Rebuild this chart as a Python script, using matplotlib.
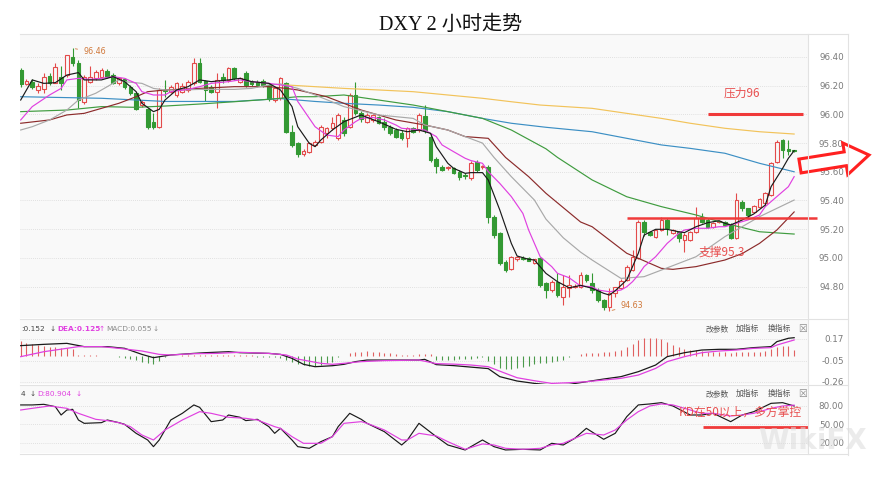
import matplotlib
matplotlib.use('Agg')
import matplotlib.pyplot as plt
import numpy as np
from matplotlib.patches import Polygon
from matplotlib.lines import Line2D

# ---------------- data ----------------
opens = [96.31, 96.21, 96.228, 96.17, 96.18, 96.268, 96.221, 96.263, 96.274, 96.402,
         96.356, 96.089, 96.228, 96.251, 96.263, 96.305, 96.274, 96.216, 96.244, 96.193,
         96.151, 96.065, 96.035, 95.949, 95.914, 96.172, 96.158, 96.135, 96.158, 96.17,
         96.216, 96.36, 96.235, 96.193, 96.158, 96.263, 96.24, 96.321, 96.228, 96.291,
         96.228, 96.228, 96.235, 96.205, 96.10, 96.112, 96.216, 95.879, 95.798, 95.724,
         95.74, 95.787, 95.81, 95.868, 95.903, 95.833, 95.961, 95.914, 96.135, 96.007,
         95.949, 95.961, 95.979, 95.949, 95.914, 95.891, 95.868, 95.833, 95.903, 95.891,
         95.988, 95.845, 95.69, 95.636, 95.625, 95.624, 95.601, 95.575, 95.554, 95.67,
         95.63, 95.636, 95.287, 95.171, 94.973, 94.92, 94.99, 94.997, 95.0, 94.962,
         94.997, 94.823, 94.776, 94.834, 94.73, 94.788, 94.80, 94.799, 94.881, 94.823,
         94.776, 94.706, 94.66, 94.753, 94.788, 94.846, 94.915, 94.997, 95.252, 95.182,
         95.148, 95.194, 95.264, 95.171, 95.182, 95.125, 95.125, 95.182, 95.282, 95.264,
         95.217, 95.25, 95.252, 95.229, 95.136, 95.392, 95.345, 95.322, 95.357, 95.38,
         95.438, 95.67, 95.821, 95.76, 95.75]
highs = [96.32, 96.245, 96.245, 96.216, 96.29, 96.286, 96.356, 96.337, 96.414, 96.46,
         96.379, 96.274, 96.337, 96.309, 96.321, 96.314, 96.286, 96.263, 96.251, 96.205,
         96.158, 96.10, 96.042, 96.007, 96.181, 96.24, 96.205, 96.228, 96.216, 96.24,
         96.39, 96.39, 96.24, 96.205, 96.286, 96.286, 96.328, 96.328, 96.263, 96.305,
         96.24, 96.24, 96.245, 96.216, 96.188, 96.263, 96.228, 95.926, 95.81, 95.757,
         95.81, 95.82, 95.926, 95.914, 95.979, 96.007, 95.979, 96.147, 96.228, 96.02,
         96.007, 96.0, 95.99, 95.972, 95.926, 95.903, 95.891, 95.914, 95.91, 96.007,
         96.065, 95.87, 95.70, 95.645, 95.64, 95.635, 95.612, 95.59, 95.675, 95.685,
         95.65, 95.647, 95.30, 95.18, 94.985, 95.015, 95.012, 95.01, 95.008, 94.995,
         95.008, 94.83, 94.845, 94.893, 94.88, 94.88, 94.815, 94.904, 94.89, 94.893,
         94.788, 94.715, 94.788, 94.80, 94.85, 94.95, 95.055, 95.262, 95.264, 95.19,
         95.20, 95.287, 95.275, 95.20, 95.19, 95.17, 95.19, 95.357, 95.31, 95.275,
         95.25, 95.26, 95.26, 95.24, 95.45, 95.40, 95.35, 95.37, 95.415, 95.46,
         95.67, 95.82, 95.83, 95.821, 95.755]
lows = [96.19, 96.205, 96.18, 96.15, 96.15, 96.205, 96.216, 96.17, 96.263, 96.337,
        96.042, 96.072, 96.216, 96.24, 96.251, 96.251, 96.212, 96.205, 96.174, 96.135,
        96.03, 96.054, 95.896, 95.896, 95.903, 96.123, 96.147, 96.123, 96.147, 96.158,
        96.205, 96.216, 96.095, 96.147, 96.042, 96.216, 96.228, 96.24, 96.216, 96.193,
        96.198, 96.19, 96.19, 96.095, 96.088, 96.10, 95.868, 95.775, 95.705, 95.71,
        95.733, 95.78, 95.798, 95.833, 95.891, 95.821, 95.849, 95.903, 95.996, 95.95,
        95.94, 95.95, 95.93, 95.891, 95.856, 95.833, 95.821, 95.775, 95.87, 95.879,
        95.868, 95.67, 95.59, 95.605, 95.61, 95.585, 95.543, 95.55, 95.545, 95.60,
        95.62, 95.241, 95.136, 94.95, 94.905, 94.915, 94.98, 94.985, 94.975, 94.955,
        94.80, 94.718, 94.76, 94.73, 94.672, 94.73, 94.79, 94.788, 94.835, 94.753,
        94.695, 94.637, 94.63, 94.73, 94.78, 94.84, 94.91, 94.99, 95.152, 95.15,
        95.14, 95.19, 95.159, 95.165, 95.113, 95.043, 95.115, 95.17, 95.245, 95.21,
        95.21, 95.24, 95.22, 95.13, 95.13, 95.33, 95.28, 95.31, 95.35, 95.37,
        95.43, 95.66, 95.694, 95.716, 95.74]
closes = [96.21, 96.23, 96.193, 96.198, 96.26, 96.216, 96.328, 96.216, 96.414, 96.356,
          96.10, 96.263, 96.263, 96.298, 96.309, 96.263, 96.216, 96.251, 96.188, 96.147,
          96.035, 96.088, 95.914, 95.914, 96.17, 96.165, 96.188, 96.216, 96.198, 96.228,
          96.36, 96.228, 96.17, 96.158, 96.24, 96.24, 96.321, 96.251, 96.251, 96.205,
          96.212, 96.205, 96.205, 96.105, 96.181, 96.251, 95.879, 95.787, 95.724, 95.747,
          95.798, 95.81, 95.914, 95.903, 95.938, 95.996, 95.868, 96.135, 96.007, 95.965,
          95.996, 95.996, 95.942, 95.914, 95.868, 95.845, 95.833, 95.903, 95.88, 95.996,
          95.891, 95.682, 95.64, 95.615, 95.632, 95.594, 95.566, 95.571, 95.663, 95.61,
          95.64, 95.287, 95.159, 94.962, 94.915, 95.008, 95.005, 94.995, 94.98, 94.99,
          94.811, 94.776, 94.834, 94.741, 94.799, 94.811, 94.805, 94.881, 94.846, 94.776,
          94.706, 94.66, 94.753, 94.795, 94.841, 94.939, 95.008, 95.252, 95.182, 95.16,
          95.194, 95.264, 95.206, 95.194, 95.136, 95.159, 95.182, 95.275, 95.252, 95.217,
          95.24, 95.252, 95.229, 95.136, 95.403, 95.345, 95.299, 95.361, 95.408, 95.45,
          95.659, 95.81, 95.752, 95.745, 95.745]

# moving averages: (bar index, value)
ma_black_i = [0, 2, 4, 6, 8, 10, 11, 14, 16, 18, 20, 21, 23, 24, 25, 27, 29, 31, 33, 36, 38, 40, 43, 45, 47, 48,
              50, 51, 52, 54, 56, 59, 60, 62, 65, 67, 69, 71, 72, 74, 75, 77, 78, 80, 81, 83, 85, 86, 88, 89,
              91, 93, 95, 96, 97, 99, 101, 102, 103, 105, 107, 108, 110, 112, 114, 115, 117, 119, 121, 122,
              123, 125, 127, 129, 130, 132, 133, 134]
ma_black_v = [96.10, 96.24, 96.216, 96.221, 96.274, 96.291, 96.24, 96.24, 96.263, 96.228, 96.158, 96.077,
              96.019, 96.035, 96.10, 96.17, 96.193, 96.24, 96.228, 96.24, 96.251, 96.228, 96.216, 96.17,
              96.054, 95.914, 95.798, 95.775, 95.821, 95.891, 95.949, 95.996, 95.979, 95.949, 95.896, 95.879,
              95.891, 95.868, 95.775, 95.659, 95.624, 95.589, 95.594, 95.594, 95.543, 95.334, 95.101, 95.013,
              94.99, 94.985, 94.892, 94.834, 94.792, 94.799, 94.809, 94.788, 94.753, 94.741, 94.771, 94.846,
              95.032, 95.159, 95.199, 95.199, 95.182, 95.176, 95.217, 95.245, 95.259, 95.241, 95.229, 95.264,
              95.306, 95.368, 95.496, 95.624, 95.694, 95.747]
ma_pink_i = [0, 2, 5, 7, 8, 10, 12, 14, 16, 18, 20, 21, 23, 25, 26, 29, 31, 33, 36, 38, 40, 43, 45, 47, 48,
             51, 53, 55, 56, 58, 59, 61, 63, 65, 66, 68, 70, 72, 73, 75, 77, 78, 80, 81, 83, 85, 87, 88, 90,
             92, 93, 95, 97, 99, 100, 102, 104, 105, 106, 107, 108, 110, 112, 114, 115, 117, 119, 121, 122,
             124, 126, 128, 129, 131, 133, 134]
ma_pink_v = [95.961, 96.054, 96.135, 96.181, 96.24, 96.251, 96.244, 96.251, 96.263, 96.251, 96.216, 96.158,
             96.135, 96.135, 96.158, 96.174, 96.193, 96.216, 96.228, 96.24, 96.228, 96.216, 96.205, 96.193,
             96.09, 95.914, 95.856, 95.845, 95.891, 95.949, 95.972, 95.979, 95.961, 95.926, 95.903, 95.896,
             95.891, 95.845, 95.787, 95.74, 95.694, 95.678, 95.659, 95.601, 95.519, 95.427, 95.31, 95.194,
             95.008, 94.939, 94.892, 94.862, 94.804, 94.799, 94.776, 94.764, 94.776, 94.799, 94.834, 94.881,
             94.939, 95.008, 95.101, 95.171, 95.194, 95.206, 95.206, 95.217, 95.217, 95.241, 95.264, 95.299,
             95.357, 95.427, 95.496, 95.566]
ma_gray_i = [0, 2, 5, 8, 10, 13, 15, 17, 18, 21, 23, 25, 28, 31, 34, 37, 40, 43, 45, 48, 51, 56, 62, 68, 70,
             74, 77, 80, 82, 85, 89, 91, 94, 97, 99, 104, 108, 111, 117, 122, 128, 134]
ma_gray_v = [95.891, 95.914, 95.961, 96.03, 96.10, 96.147, 96.193, 96.24, 96.228, 96.216, 96.181, 96.17,
             96.17, 96.174, 96.174, 96.174, 96.181, 96.205, 96.212, 96.181, 96.135, 96.054, 95.996, 95.972,
             95.926, 95.891, 95.845, 95.80, 95.70, 95.566, 95.403, 95.27, 95.14, 95.04, 94.985, 94.857,
             94.869, 94.915, 95.008, 95.148, 95.287, 95.403]
ma_brown_i = [0, 5, 8, 11, 14, 17, 20, 22, 25, 31, 37, 43, 46, 48, 53, 59, 65, 70, 74, 77, 81, 84, 88, 91,
              94, 97, 99, 105, 111, 113, 117, 122, 125, 128, 131, 134]
ma_brown_v = [95.938, 95.961, 95.996, 96.007, 96.042, 96.077, 96.123, 96.158, 96.17, 96.181, 96.193, 96.193,
              96.181, 96.17, 96.123, 96.03, 95.961, 95.926, 95.891, 95.845, 95.833, 95.70, 95.566, 95.45,
              95.35, 95.25, 95.217, 95.032, 94.927, 94.92, 94.939, 94.985, 95.03, 95.101, 95.194, 95.32]
ma_green_i = [0, 8, 14, 20, 25, 31, 37, 43, 48, 51, 56, 62, 68, 74, 80, 85, 91, 93, 99, 105, 111, 117, 122,
              128, 134]
ma_green_v = [96.019, 96.03, 96.054, 96.049, 96.058, 96.072, 96.088, 96.105, 96.123, 96.123, 96.135, 96.10,
              96.065, 96.019, 95.972, 95.891, 95.76, 95.70, 95.543, 95.426, 95.357, 95.299, 95.241, 95.182,
              95.166]
ma_blue_i = [0, 14, 25, 37, 45, 51, 56, 62, 68, 74, 80, 85, 91, 99, 105, 111, 116, 122, 128, 134]
ma_blue_v = [96.123, 96.112, 96.09, 96.09, 96.11, 96.09, 96.077, 96.065, 96.049, 96.019, 95.972, 95.938,
             95.91, 95.879, 95.833, 95.787, 95.763, 95.729, 95.659, 95.60]
ma_yellow_i = [46, 51, 56, 62, 68, 74, 80, 85, 90, 99, 105, 111, 116, 122, 128, 134]
ma_yellow_v = [96.205, 96.193, 96.181, 96.17, 96.158, 96.135, 96.112, 96.088, 96.065, 96.042, 96.007,
               95.972, 95.938, 95.903, 95.879, 95.863]

macd_hist = [0.15, 0.13, 0.12, 0.11, 0.10, 0.09, 0.085, 0.08, 0.075, 0.07,
             0.01, 0.005, 0.005, 0.002, 0.0, -0.005, -0.008, -0.01, -0.02, -0.03,
             -0.045, -0.06, -0.07, -0.085, -0.05, -0.01, -0.005, -0.005, 0.003, 0.003,
             0.005, 0.005, 0.005, 0.005, 0.005, 0.005, 0.005, 0.003, 0.003, 0.003,
             0.003, -0.01, -0.01, -0.01, -0.01, -0.02, -0.04, -0.06, -0.08, -0.09,
             -0.10, -0.10, -0.09, -0.075, -0.06, -0.01, -0.005, 0.03, 0.04, 0.04,
             0.045, 0.04, 0.04, 0.03, 0.025, 0.02, 0.005, 0.005, 0.003, 0.02,
             0.02, 0.02, -0.04, -0.04, -0.04, -0.04, -0.035, -0.03, -0.03, -0.02,
             -0.015, -0.05, -0.08, -0.12, -0.13, -0.13, -0.12, -0.11, -0.10, -0.08,
             -0.07, -0.07, -0.06, -0.05, -0.04, -0.01, 0.0, 0.02, 0.03, 0.03,
             0.03, 0.035, 0.04, 0.05, 0.06, 0.09, 0.12, 0.16, 0.18, 0.18,
             0.18, 0.17, 0.14, 0.11, 0.09, 0.07, 0.06, 0.06, 0.05, 0.04,
             0.04, 0.04, 0.035, 0.03, 0.04, 0.04, 0.035, 0.035, 0.04, 0.05,
             0.07, 0.09, 0.10, 0.10, 0.06]
dif_i = [0, 4, 8, 11, 15, 18, 21, 23, 26, 30, 32, 36, 38, 43, 45, 47, 49, 51, 54, 56, 58, 60, 69, 70, 72, 75,
         78, 81, 83, 86, 89, 92, 95, 98, 101, 104, 107, 110, 112, 115, 118, 121, 124, 127, 130, 131, 133, 134]
dif_v = [0.101, 0.114, 0.124, 0.091, 0.091, 0.074, 0.013, -0.02, 0.007, 0.023, 0.03, 0.04, 0.03, 0.023, 0.013,
         -0.027, -0.087, -0.111, -0.101, -0.087, -0.06, -0.044, -0.044, -0.037, -0.09, -0.10, -0.115, -0.13,
         -0.211, -0.255, -0.279, -0.295, -0.289, -0.262, -0.235, -0.211, -0.161, -0.094, -0.01, 0.03, 0.057,
         0.064, 0.064, 0.081, 0.091, 0.141, 0.175, 0.181]
dea_i = [0, 4, 8, 10, 14, 17, 21, 24, 26, 30, 34, 38, 43, 46, 48, 52, 54, 56, 59, 63, 69, 72, 75, 78, 81, 84,
         86, 89, 92, 95, 98, 101, 104, 107, 110, 112, 115, 118, 121, 124, 127, 130, 131, 133, 134]
dea_v = [-0.01, 0.04, 0.074, 0.091, 0.091, 0.074, 0.047, 0.013, 0.007, 0.02, 0.023, 0.034, 0.023, 0.007,
         -0.034, -0.077, -0.087, -0.077, -0.06, -0.05, -0.044, -0.08, -0.085, -0.094, -0.111, -0.178, -0.222,
         -0.252, -0.279, -0.272, -0.262, -0.245, -0.228, -0.195, -0.128, -0.06, -0.01, 0.03, 0.047, 0.057,
         0.074, 0.081, 0.107, 0.141, 0.158]

k_i = [0, 2, 4, 6, 7, 8, 9, 10, 11, 14, 15, 17, 18, 20, 22, 23, 24, 26, 28, 30, 31, 33, 35, 36, 38, 39, 41,
       43, 44, 45, 47, 48, 50, 52, 54, 55, 57, 59, 60, 63, 66, 67, 69, 72, 74, 77, 80, 82, 84, 87, 90, 92,
       94, 96, 98, 101, 103, 105, 107, 109, 111, 113, 116, 118, 120, 123, 125, 127, 130, 132, 134]
k_v = [81.2, 81.2, 82.2, 78.4, 64.9, 73.0, 74.1, 56.8, 51.4, 52.5, 56.8, 52.5, 49.8, 35.2, 24.4, 13.6, 24.4,
       56.8, 67.6, 81.2, 77.3, 54.1, 56.8, 64.9, 61.2, 55.8, 57.9, 46.0, 35.2, 43.3, 24.4, 13.6, 10.9, 21.7,
       29.8, 46.0, 67.6, 57.9, 51.4, 37.9, 16.3, 24.4, 51.4, 29.8, 16.3, 8.2, 24.4, 13.6, 8.2, 9.3, 8.2, 19.0,
       16.3, 27.1, 43.3, 25.5, 35.2, 62.2, 81.2, 82.8, 84.9, 79.5, 64.9, 64.9, 67.6, 54.1, 64.9, 70.3, 83.8,
       84.9, 79.5]
d_i = [0, 2, 5, 8, 10, 13, 15, 17, 19, 21, 23, 25, 28, 31, 33, 36, 39, 41, 44, 45, 47, 49, 52, 54, 56, 59,
       60, 63, 66, 67, 69, 72, 74, 77, 80, 82, 84, 87, 90, 92, 94, 96, 98, 101, 103, 105, 107, 109, 111, 113,
       116, 118, 120, 123, 125, 127, 130, 132, 134]
d_v = [73.0, 75.7, 79.5, 75.7, 67.6, 57.9, 55.8, 52.5, 46.0, 32.5, 24.4, 40.6, 56.8, 70.3, 67.6, 61.2, 59.5,
       56.8, 46.0, 43.3, 29.8, 19.0, 19.0, 29.8, 51.4, 54.1, 51.4, 40.6, 24.4, 24.4, 35.2, 30.9, 21.7, 9.3,
       18.0, 16.3, 10.9, 9.3, 10.9, 16.3, 19.0, 27.1, 35.2, 32.5, 40.6, 56.8, 70.3, 79.5, 82.8, 81.2, 73.0,
       67.6, 67.6, 63.3, 64.9, 67.6, 75.7, 79.5, 80.9]

price_ticks = [96.40, 96.20, 96.00, 95.80, 95.60, 95.40, 95.20, 95.00, 94.80]
macd_ticks = [0.17, -0.05, -0.26]
kdj_ticks = [80.00, 50.00, 20.00]
resistance = 96.00
support = 95.277
kd_line = 46.0
high_mark = (9, 96.46)
low_mark = (102, 94.63)

# ---------------- style ----------------
W, H = 872, 480
fig = plt.figure(figsize=(W / 100, H / 100), dpi=100)
fig.patch.set_facecolor('white')
BG = '#f9f9f9'
RED = '#e34b4b'
GRN = '#339933'
CJK = ['Noto Sans CJK SC', 'DejaVu Sans']
XL = (-0.121, 136.4)


def px_axes(x0, y0, x1, y1):
    return fig.add_axes([x0 / W, 1 - y1 / H, (x1 - x0) / W, (y1 - y0) / H])


def style(ax, ticks, labels, ylim):
    ax.set_facecolor(BG)
    ax.set_xlim(*XL)
    ax.set_ylim(*ylim)
    ax.set_xticks([])
    ax.yaxis.tick_right()
    ax.set_yticks(ticks)
    ax.set_yticklabels(labels, ha='right')
    ax.tick_params(axis='y', length=0, pad=25.9, labelsize=6.3, labelcolor='#7a7a7a')
    for s in ax.spines.values():
        s.set_visible(False)
    for t in ticks:
        ax.axhline(t, color='#d9d9d9', lw=0.6, ls=(0, (1, 1.5)), zorder=0)


# ---------------- main panel ----------------
ax = px_axes(20, 34, 808, 318)
style(ax, price_ticks, ['%.2f' % t for t in price_ticks], (94.581, 96.560))

o = np.array(opens); h = np.array(highs); l = np.array(lows); c = np.array(closes)
idx = np.arange(len(o))
up = c >= o
wc = np.where(up, RED, GRN)
ax.vlines(idx, l, h, colors=wc, lw=0.8, zorder=2)
bot = np.minimum(o, c)
hei = np.maximum(np.abs(c - o), 0.004)
ax.bar(idx[up], hei[up], bottom=bot[up], width=0.64, facecolor=BG, edgecolor=RED, lw=0.8, zorder=3)
ax.bar(idx[~up], hei[~up], bottom=bot[~up], width=0.64, facecolor=GRN, edgecolor=GRN, lw=0.8, zorder=3)

for xs, ys, col in [(ma_yellow_i, ma_yellow_v, '#f2c35a'), (ma_blue_i, ma_blue_v, '#3c8fc4'),
                    (ma_green_i, ma_green_v, '#3f9c3f'), (ma_brown_i, ma_brown_v, '#8c2b2b'),
                    (ma_gray_i, ma_gray_v, '#a9a9a9'), (ma_pink_i, ma_pink_v, '#e040e0'),
                    (ma_black_i, ma_black_v, '#1a1a1a')]:
    ax.plot(xs, ys, color=col, lw=0.85, zorder=4)

ann_col = '#d0783a'
ax.annotate('96.46', xy=high_mark, xytext=(10.8, 96.435), fontsize=5.8, color=ann_col,
            va='center', ha='left', arrowprops=dict(arrowstyle='-', color=ann_col, lw=0.6))
ax.annotate('94.63', xy=low_mark, xytext=(103.9, 94.668), fontsize=5.8, color=ann_col,
            va='center', ha='left', arrowprops=dict(arrowstyle='-', color=ann_col, lw=0.6))

ax.plot([119.1, 135.5], [resistance, resistance], color='#f03a3a', lw=2.2, zorder=5, solid_capstyle='butt')
ax.text(125.0, 96.149, '压力96', color='#e85050', fontsize=8.5, ha='center', va='center', family=CJK)
ax.plot([105.0, 138.0], [support, support], color='#f03a3a', lw=1.8, zorder=5, clip_on=False,
        solid_capstyle='butt')
ax.text(121.5, 95.041, '支撑95.3', color='#e85050', fontsize=8.5, ha='center', va='center', family=CJK,
        zorder=6)

# ---------------- MACD panel ----------------
ax2 = px_axes(20, 320, 808, 384)
style(ax2, macd_ticks, ['0.17', '-0.05', '-0.26'], (-0.285, 0.359))
hist = np.array(macd_hist)
hc = np.where(hist >= 0, '#e06060', '#4a9a4a')
ax2.vlines(np.arange(len(hist)), 0, hist, colors=hc, lw=0.8, zorder=2)
ax2.plot(dif_i, dif_v, color='#1a1a1a', lw=0.9, zorder=3)
ax2.plot(dea_i, dea_v, color='#e040e0', lw=0.9, zorder=3)

# ---------------- KDJ panel ----------------
ax3 = px_axes(20, 386, 808, 453)
style(ax3, kdj_ticks, ['%.2f' % t for t in kdj_ticks], (3.3, 111.9))
ax3.plot(k_i, k_v, color='#1a1a1a', lw=0.85, zorder=3)
ax3.plot(d_i, d_v, color='#e040e0', lw=0.85, zorder=3)
ax3.plot([118.2, 136.4], [kd_line, kd_line], color='#f03a3a', lw=2.0, zorder=5, solid_capstyle='butt')
ax3.text(124.7, 69.8, 'KD在50以上，多方掌控', color='#e85050', fontsize=8.5, ha='center', va='center',
         family=CJK, zorder=6)


# ---------------- frame lines ----------------
def fline(x0, y0, x1, y1, col='#e2e2e2', lw=0.8):
    fig.add_artist(Line2D([x0 / W, x1 / W], [1 - y0 / H, 1 - y1 / H], color=col, lw=lw))


fline(20, 34, 848, 34)
fline(20, 319, 848, 319)
fline(20, 385, 848, 385)
fline(20, 453.5, 848, 453.5)
fline(808, 34, 808, 453.5)
fline(848, 34, 848, 455)


# ---------------- header texts ----------------
def ftext(x, y, s, col, size=5.3, fam=None, ha='left', **kw):
    fig.text(x / W, 1 - y / H, s, color=col, fontsize=size, ha=ha, va='center',
             family=fam if fam else ['DejaVu Sans'], **kw)


fig.text(451 / W, 1 - 25 / H, 'DXY 2 小时走势', fontsize=14.5, ha='center', va='center',
         family=['Liberation Serif', 'Noto Sans CJK SC'], color='#111111')

ftext(21, 329, ':0.152', '#444444')
ftext(50, 329, '↓', '#444444')
ftext(57, 329, 'DEA:0.125', '#e040e0', weight='bold')
ftext(99, 329, '↑', '#e040e0')
ftext(106.5, 329, 'MACD:0.055', '#8a8a8a')
ftext(153, 329, '↓', '#8a8a8a')

ftext(21, 394, '4', '#444444')
ftext(30, 394, '↓', '#444444')
ftext(37, 394, 'D:80.904', '#e040e0')
ftext(76, 394, '↓', '#e040e0')

for yy in (329, 394):
    ftext(706, yy, '改参数', '#555555', size=5.6, fam=CJK)
    ftext(736, yy, '加指标', '#555555', size=5.6, fam=CJK)
    ftext(768, yy, '换指标', '#555555', size=5.6, fam=CJK)
    ftext(803, yy, '☒', '#888888', size=7, ha='center')

# watermark
ftext(812, 441, 'WikiFX', '#dcdcdc', size=20, ha='center', alpha=0.55, weight='bold')

# ---------------- red hollow arrow ----------------
T = np.array([800.0, 166.0]); P = np.array([869.0, 155.0])
u = (P - T) / np.linalg.norm(P - T)
n = np.array([-u[1], u[0]])
B = P - 24 * u
pts = [T + 7 * n, B + 7 * n, B + 16 * n, P, B - 16 * n, B - 7 * n, T - 7 * n]
pts = [(p[0] / W, 1 - p[1] / H) for p in pts]
fig.add_artist(Polygon(pts, closed=True, fill=False, edgecolor='#ff2020', lw=2.2,
                       transform=fig.transFigure))

fig.savefig('out.png', dpi=100, facecolor='white')
